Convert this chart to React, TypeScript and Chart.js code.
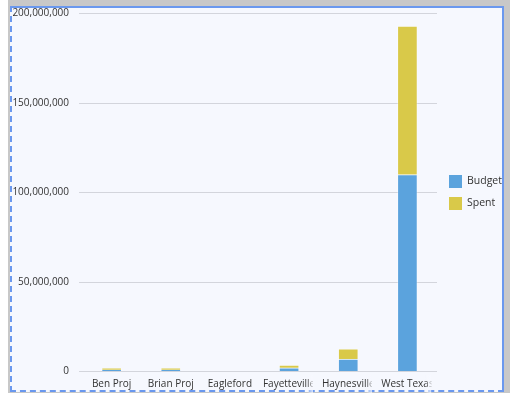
import React, { useEffect, useRef } from 'react';
import { Chart, registerables } from 'chart.js';

Chart.register(...registerables);

const categories = ['Ben Proj', 'Brian Proj', 'Eagleford', 'Fayetteville', 'Haynesville', 'West Texas'];
const budget = [1000000, 1000000, 0, 2100000, 7000000, 110000000];
const spent = [1100000, 1100000, 0, 1500000, 5600000, 83000000];
const yTicks = [0, 50000000, 100000000, 150000000, 200000000];
const seriesNames = ['Budget', 'Spent'];
const seriesColors = ['#5ba3dd', '#d9c949'];

const FONT = '"Open Sans", "Noto Sans", sans-serif';
const TEXT = '#333333';
const PANEL_BG = '#f6f8fe';

const xLabelPlugin = {
  id: 'xLabelPlugin',
  afterDraw(chart: any) {
    const scale = chart.scales.x;
    const ctx = chart.ctx as CanvasRenderingContext2D;
    ctx.save();
    ctx.font = `10px ${FONT}`;
    ctx.textBaseline = 'middle';
    ctx.textAlign = 'left';
    const maxW = 50;
    const y = chart.chartArea.bottom + 12.5;
    categories.forEach((lab, i) => {
      const cx = scale.getPixelForTick(i);
      const w = ctx.measureText(lab).width;
      const left = cx - w / 2;
      ctx.fillStyle = TEXT;
      if (w > maxW) {
        ctx.save();
        ctx.beginPath();
        ctx.rect(left, y - 9, maxW, 18);
        ctx.clip();
        ctx.fillText(lab, left, y);
        ctx.restore();
        const g = ctx.createLinearGradient(left + maxW - 6, 0, left + maxW, 0);
        g.addColorStop(0, 'rgba(246,248,254,0)');
        g.addColorStop(1, 'rgba(246,248,254,0.8)');
        ctx.fillStyle = g;
        ctx.fillRect(left + maxW - 6, y - 9, 6, 18);
      } else {
        ctx.fillText(lab, left, y);
      }
    });
    ctx.restore();
  },
};

const legendPlugin = {
  id: 'sideLegend',
  afterDraw(chart: any) {
    const ctx = chart.ctx as CanvasRenderingContext2D;
    const area = chart.chartArea;
    const x = area.right + 12;
    const midY = (area.top + area.bottom) / 2;
    const n = chart.data.datasets.length;
    const step = 22;
    const box = 13;
    const startY = midY - ((n - 1) * step + box) / 2;
    ctx.save();
    ctx.font = `10.5px ${FONT}`;
    ctx.textBaseline = 'middle';
    ctx.textAlign = 'left';
    chart.data.datasets.forEach((ds: any, i: number) => {
      const by = startY + i * step;
      ctx.fillStyle = ds.backgroundColor;
      ctx.fillRect(x, by, box, box);
      ctx.fillStyle = TEXT;
      ctx.fillText(ds.label, x + box + 5, by + box / 2);
    });
    ctx.restore();
  },
};

export default function App() {
  const ref = useRef<HTMLCanvasElement>(null);

  useEffect(() => {
    if (!ref.current) return;
    const chart = new Chart(ref.current, {
      type: 'bar',
      data: {
        labels: categories,
        datasets: [
          {
            label: seriesNames[0],
            data: budget,
            backgroundColor: seriesColors[0],
            borderColor: 'rgba(255,255,255,0.3)',
            borderWidth: 1,
            barThickness: 20,
          },
          {
            label: seriesNames[1],
            data: spent,
            backgroundColor: seriesColors[1],
            borderColor: 'rgba(255,255,255,0.3)',
            borderWidth: 1,
            barThickness: 20,
          },
        ],
      },
      options: {
        responsive: false,
        animation: false,
        devicePixelRatio: 1,
        layout: { padding: { left: 2.4, right: 73, top: 13.5, bottom: 12.5 } },
        plugins: {
          legend: { display: false },
          tooltip: { enabled: false },
        },
        scales: {
          x: {
            stacked: true,
            grid: { display: false, drawTicks: false },
            border: { display: false },
            ticks: {
              color: 'rgba(0,0,0,0)',
              font: { family: FONT, size: 10 },
              padding: 0,
              autoSkip: false,
              maxRotation: 0,
              minRotation: 0,
            },
          },
          y: {
            stacked: true,
            min: yTicks[0],
            max: yTicks[yTicks.length - 1],
            afterBuildTicks: (axis: any) => {
              axis.ticks = yTicks.map((v) => ({ value: v }));
            },
            afterFit: (axis: any) => {
              axis.paddingTop = 0;
              axis.paddingBottom = 0;
            },
            grid: { color: '#d3d5dc', tickLength: 3, drawTicks: true },
            border: { display: false },
            ticks: {
              color: TEXT,
              font: { family: FONT, size: 10 },
              padding: 10,
              callback: (v: any) => Number(v).toLocaleString('en-US'),
            },
          },
        },
      },
      plugins: [xLabelPlugin, legendPlugin],
    });
    return () => chart.destroy();
  }, []);

  return (
    <div style={{ position: 'fixed', left: 0, top: 0, width: 510, height: 396, background: '#ffffff', overflow: 'hidden' }}>
      <div style={{ position: 'absolute', left: 8, top: 0, width: 502, height: 393, background: '#c8c8c8' }} />
      <div
        style={{
          position: 'absolute',
          left: 10,
          top: 6,
          width: 490,
          height: 382,
          background: PANEL_BG,
          borderTop: '2px solid #6a98ee',
          borderRight: '2px solid #6a98ee',
          borderLeft: '2px dashed #6a98ee',
          borderBottom: '2px dashed #6a98ee',
        }}
      />
      <canvas ref={ref} width={510} height={396} style={{ position: 'absolute', left: 0, top: 0, width: 510, height: 396 }} />
    </div>
  );
}
